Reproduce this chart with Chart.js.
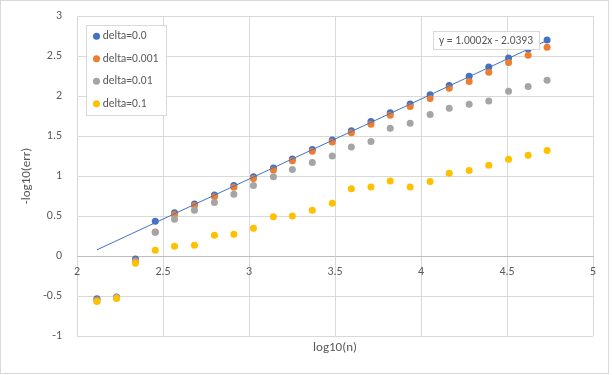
<!DOCTYPE html>
<html>
<head>
<meta charset="utf-8">
<script src="https://cdn.jsdelivr.net/npm/chart.js@4.4.1/dist/chart.umd.min.js"></script>
<style>
  html, body { margin: 0; padding: 0; background: #fff; }
  #wrap { width: 612px; height: 375px; }
</style>
</head>
<body>
<div id="wrap"><canvas id="errChart" width="612" height="375"></canvas></div>
<script>
// values
const logN = [2.116, 2.230, 2.340, 2.455, 2.567, 2.683, 2.799, 2.912, 3.026, 3.142, 3.252, 3.368,
              3.484, 3.595, 3.709, 3.821, 3.937, 4.053, 4.164, 4.280, 4.394, 4.509, 4.623, 4.733];
const delta0 = [-0.534, -0.513, -0.038, 0.433, 0.542, 0.650, 0.763, 0.880, 0.990, 1.100, 1.213, 1.330,
                1.450, 1.567, 1.680, 1.790, 1.900, 2.017, 2.130, 2.246, 2.363, 2.475, 2.588, 2.700];
const delta0001 = [-0.550, -0.520, -0.060, 0.300, 0.520, 0.630, 0.740, 0.860, 0.970, 1.075, 1.190, 1.310,
                   1.425, 1.540, 1.646, 1.760, 1.870, 1.970, 2.096, 2.180, 2.296, 2.420, 2.510, 2.610];
const delta001 = [-0.560, -0.520, -0.070, 0.296, 0.458, 0.571, 0.670, 0.771, 0.880, 0.990, 1.080, 1.170,
                  1.250, 1.362, 1.430, 1.596, 1.660, 1.770, 1.846, 1.896, 1.938, 2.060, 2.120, 2.196];
const delta01 = [-0.569, -0.530, -0.090, 0.071, 0.121, 0.133, 0.258, 0.271, 0.346, 0.490, 0.500, 0.571,
                 0.658, 0.840, 0.862, 0.938, 0.862, 0.930, 1.033, 1.070, 1.133, 1.208, 1.258, 1.320];
const seriesNames = ['delta=0.0', 'delta=0.001', 'delta=0.01', 'delta=0.1'];
const xTickValues = [2, 2.5, 3, 3.5, 4, 4.5, 5];
const yTickValues = [-1, -0.5, 0, 0.5, 1, 1.5, 2, 2.5, 3];
const trendSlope = 1.0002;
const trendIntercept = -2.0393;

const colors = ['#4472C4', '#ED7D31', '#A5A5A5', '#FFC000'];
const textGray = '#595959';
const gridGray = '#D9D9D9';
const fontFamily = 'Carlito, Lato, "Liberation Sans", sans-serif';

Chart.defaults.font.family = fontFamily;
Chart.defaults.color = textGray;

const toPoints = ys => logN.map((x, i) => ({ x: x, y: ys[i] }));
const setTicks = vals => scale => { scale.ticks = vals.map(v => ({ value: v })); };
const plainLabel = v => String(v);

const xFirst = logN[0];
const xLast = logN[logN.length - 1];
const trendPoints = [
    { x: xFirst, y: trendSlope * xFirst + trendIntercept },
    { x: xLast, y: trendSlope * xLast + trendIntercept }
];

const seriesSets = [delta0, delta0001, delta001, delta01].map((ys, i) => ({
    label: seriesNames[i],
    data: toPoints(ys),
    backgroundColor: colors[i],
    borderColor: colors[i],
    pointRadius: 3.5,
    pointBorderWidth: 0,
    pointStyle: 'circle',
    order: 4 - i   // later series drawn on top, like the original
}));

// white background and thin outer frame
const chartFrame = {
    id: 'chartFrame',
    beforeDraw(chart) {
        const c = chart.ctx;
        c.save();
        c.fillStyle = '#fff';
        c.fillRect(0, 0, chart.width, chart.height);
        c.strokeStyle = gridGray;
        c.lineWidth = 1;
        c.strokeRect(0.5, 0.5, chart.width - 4, chart.height - 2);
        c.restore();
    }
};

// move the legend into the upper left of the plot and give it a box
const legendBox = {
    id: 'legendBox',
    afterLayout(chart) {
        const lg = chart.legend;
        lg.left = chart.chartArea.left + 8;
        lg.top = chart.chartArea.top + 3.5;
        lg.bottom = chart.chartArea.bottom;
    },
    beforeDatasetsDraw(chart) {
        const lg = chart.legend;
        const c = chart.ctx;
        c.save();
        c.fillStyle = '#fff';
        c.strokeStyle = gridGray;
        c.lineWidth = 1;
        c.fillRect(lg.left + 1, lg.top + 5.5, 80, 90);
        c.strokeRect(lg.left + 1.5, lg.top + 6, 80, 90);
        c.restore();
        lg.draw();
    }
};

// trendline equation label
const trendLabel = {
    id: 'trendLabel',
    afterDatasetsDraw(chart) {
        const c = chart.ctx;
        const text = 'y = ' + trendSlope.toFixed(4) + 'x - ' + Math.abs(trendIntercept).toFixed(4);
        const cx = 486, cy = 40, w = 106;
        c.save();
        c.fillStyle = '#fff';
        c.fillRect(cx - w / 2, cy - 9, w, 18);
        c.strokeStyle = gridGray;
        c.lineWidth = 1;
        c.strokeRect(cx - w / 2 + 0.5, cy - 8.5, w, 18);
        c.font = '11.5px ' + fontFamily;
        c.fillStyle = textGray;
        c.textAlign = 'center';
        c.textBaseline = 'middle';
        c.fillText(text, cx, cy + 1, w - 8);
        c.restore();
    }
};

const ctx = document.getElementById('errChart').getContext('2d');
new Chart(ctx, {
    type: 'scatter',
    data: {
        datasets: seriesSets.concat([{
            label: 'trend',
            data: trendPoints,
            showLine: true,
            borderColor: '#4472C4',
            borderWidth: 1,
            pointRadius: 0,
            order: 0
        }])
    },
    options: {
        responsive: false,
        animation: false,
        events: [],
        layout: { padding: { top: 16, right: 19, bottom: 0, left: 0 } },
        plugins: {
            tooltip: { enabled: false },
            legend: {
                position: 'chartArea',
                align: 'start',
                labels: {
                    usePointStyle: true,
                    boxWidth: 1,
                    boxHeight: 5,
                    padding: 11,
                    color: textGray,
                    font: { size: 11.5 },
                    filter: item => item.datasetIndex < seriesNames.length,
                    sort: (a, b) => a.datasetIndex - b.datasetIndex
                }
            }
        },
        scales: {
            x: {
                type: 'linear',
                position: 'bottom',
                min: 2, max: 5,
                afterBuildTicks: setTicks(xTickValues),
                ticks: { display: false },
                grid: { color: gridGray, drawTicks: false },
                border: { display: false },
                title: {
                    display: true, text: 'log10(n)', color: textGray,
                    font: { size: 13 }, padding: { top: 0, bottom: 19 }
                },
                afterFit: s => { s.height = 39; }
            },
            xZero: {
                type: 'linear',
                position: { y: 0 },
                min: 2, max: 5,
                afterBuildTicks: setTicks(xTickValues),
                ticks: { color: textGray, font: { size: 12 }, padding: 9, callback: plainLabel },
                grid: { display: false, drawTicks: false },
                border: { display: true, color: '#BFBFBF', width: 1 }
            },
            y: {
                type: 'linear',
                position: 'left',
                min: -1, max: 3,
                afterBuildTicks: setTicks(yTickValues),
                ticks: { color: textGray, font: { size: 12 }, padding: 15, callback: plainLabel },
                grid: { color: gridGray, drawTicks: false },
                border: { display: false },
                title: {
                    display: true, text: '-log10(err)', color: textGray,
                    font: { size: 13 }, padding: { top: 19, bottom: 0 }
                },
                afterFit: s => { s.width = 77; s.paddingTop = 0; s.paddingBottom = 0; }
            }
        }
    },
    plugins: [chartFrame, legendBox, trendLabel]
});
</script>
</body>
</html>
